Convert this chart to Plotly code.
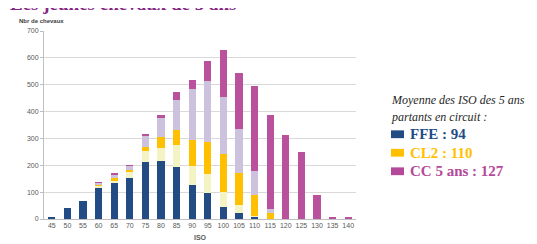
import plotly.graph_objects as go

iso = ["45", "50", "55", "60", "65", "70", "75", "80", "85", "90", "95", "100",
       "105", "110", "115", "120", "125", "130", "135", "140"]

ffe =      [5, 40, 66, 118, 133, 153, 212, 217, 195, 126, 96, 45, 24, 9, 0, 0, 0, 0, 0, 0]
pale =     [0, 0, 0, 5, 9, 22, 43, 46, 80, 72, 70, 55, 29, 3, 0, 0, 0, 0, 0, 0]
cl2 =      [0, 0, 0, 3, 9, 8, 12, 44, 55, 97, 120, 141, 118, 77, 24, 0, 0, 0, 0, 0]
lavender = [0, 0, 0, 10, 14, 15, 44, 70, 113, 189, 228, 214, 164, 89, 12, 0, 0, 0, 0, 0]
cc5 =      [0, 0, 0, 1, 3, 2, 5, 9, 29, 34, 76, 174, 207, 316, 352, 311, 251, 89, 8, 4]

series = [
    ("FFE", ffe, "#234B84"),
    ("Autre 1", pale, "#F3F3C3"),
    ("CL2", cl2, "#FFC000"),
    ("Autre 2", lavender, "#CDC2DD"),
    ("CC 5 ans", cc5, "#B9519D"),
]

legend_lines = [("FFE : 94", "#234B84"), ("CL2 : 110", "#FFC000"), ("CC 5 ans : 127", "#B5489A")]

fig = go.Figure()
for name, vals, col in series:
    fig.add_trace(go.Bar(x=iso, y=vals, name=name, marker=dict(color=col, line=dict(width=0)),
                         showlegend=False))

W, H = 537, 244
L, R, T, B = 36, 189, 23, 28
pw, ph = W - L - R, H - T - B

def px(x):
    return (x - L) / pw

def py(y):
    return (H - B - y) / ph

fig.update_layout(
    width=W, height=H,
    margin=dict(l=L, r=R, t=T, b=B),
    barmode="stack",
    bargap=0.55,
    plot_bgcolor="white",
    paper_bgcolor="white",
    font=dict(family="Liberation Sans, Arial, sans-serif", size=7, color="#595959"),
    xaxis=dict(type="category", showgrid=False, showline=True, linecolor="#BFBFBF",
               linewidth=1, ticks="", tickfont=dict(size=7, color="#595959"),
               title=dict(text="<b>ISO</b>", font=dict(size=7, color="#595959"), standoff=6)),
    yaxis=dict(range=[0, 700], dtick=100, showgrid=True, gridcolor="#D9D9D9", gridwidth=1,
               showline=True, linecolor="#BFBFBF", linewidth=1, ticks="outside",
               ticklen=3, tickcolor="#BFBFBF", tickfont=dict(size=7, color="#595959"),
               zeroline=False),
)

ann = []
# title, cut off by the top edge as in the reference
ann.append(dict(text="<b>Les jeunes chevaux de 5 ans</b>", xref="paper", yref="paper",
                x=px(0), y=py(8), xanchor="left", yanchor="bottom", showarrow=False,
                font=dict(family="Liberation Serif, serif", size=19, color="#872585")))
ann.append(dict(text="<b>Nbr de chevaux</b>", xref="paper", yref="paper",
                x=px(9), y=py(13), xanchor="left", yanchor="middle", showarrow=False,
                font=dict(size=6, color="#404040")))
ann.append(dict(text="<i>Moyenne des ISO des 5 ans</i>", xref="paper", yref="paper",
                x=px(381), y=py(94), xanchor="left", yanchor="middle", showarrow=False,
                font=dict(family="Liberation Serif, serif", size=12, color="#262626")))
ann.append(dict(text="<i>partants en circuit :</i>", xref="paper", yref="paper",
                x=px(381), y=py(111), xanchor="left", yanchor="middle", showarrow=False,
                font=dict(family="Liberation Serif, serif", size=12, color="#262626")))
shapes = []
for i, (txt, col) in enumerate(legend_lines):
    yc = 129 + i * 19
    ann.append(dict(text="<b>" + txt + "</b>", xref="paper", yref="paper",
                    x=px(400), y=py(yc), xanchor="left", yanchor="middle", showarrow=False,
                    font=dict(family="Liberation Serif, serif", size=15, color=col)))
    shapes.append(dict(type="rect", xref="paper", yref="paper",
                       x0=px(383), x1=px(396), y0=py(yc + 4), y1=py(yc - 4),
                       fillcolor=col, line=dict(width=0)))

fig.update_layout(annotations=ann, shapes=shapes)
fig.write_html("out.html")
